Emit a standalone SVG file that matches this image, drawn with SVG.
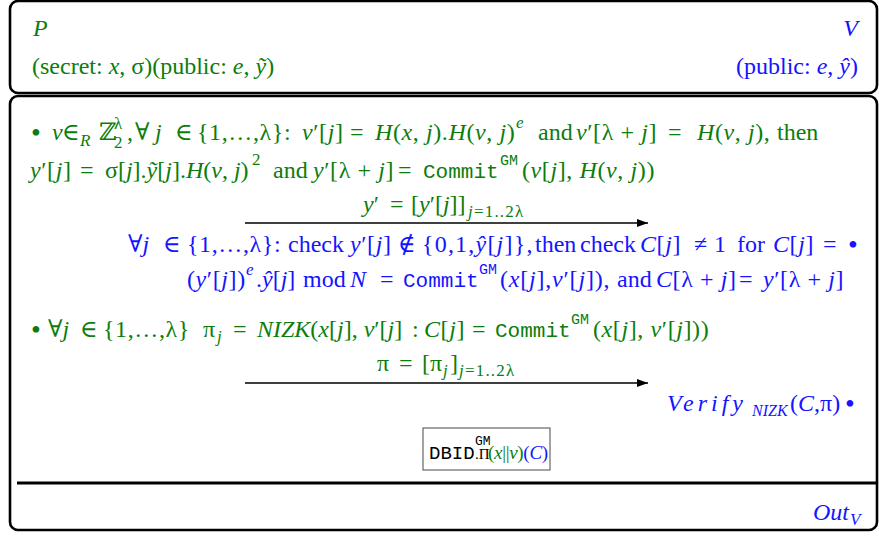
<svg xmlns="http://www.w3.org/2000/svg" width="879" height="539" viewBox="0 0 879 539">
<defs>
<style>
.t{font-family:"Liberation Serif","DejaVu Serif","DejaVu Sans",serif;font-size:24px}
.i{font-style:italic}
.ls{letter-spacing:0.6px}
.m{font-family:"Liberation Mono","DejaVu Sans Mono",monospace;font-size:21px}
.ms{font-family:"Liberation Mono","DejaVu Sans Mono",monospace;font-size:15px}
.s{font-size:17px}
.bu{font-size:28px}
.g{fill:#0b7d0b}
.b{fill:#1414ff}
.k{fill:#000}
.frame{fill:none;stroke:#000;stroke-width:2.6}
.arr{stroke:#000;stroke-width:1.3;fill:none}
</style>
<marker id="ah" viewBox="0 0 11 8" refX="11" refY="4" markerWidth="11" markerHeight="8" markerUnits="userSpaceOnUse" orient="auto">
<path d="M0,0 L11,4 L0,8 Z" fill="#000"/>
</marker>
</defs>
<rect id="background" x="0" y="0" width="879" height="539" fill="#fff"/>

<g id="frames">
<rect id="header-box" class="frame" x="10" y="1" width="867" height="92" rx="8"/>
<rect id="main-box" class="frame" x="10" y="96" width="867" height="434" rx="8"/>
<line id="separator" x1="17" y1="483" x2="877" y2="483" stroke="#000" stroke-width="3"/>
</g>

<g id="prover-header">
<text class="t g i" x="33" y="36">P</text>
<text class="t g" x="32" y="74">(secret: <tspan class="i">x</tspan>, σ)(public: <tspan class="i">e</tspan>, <tspan class="i">ỹ</tspan>)</text>
</g>
<g id="verifier-header">
<text class="t b i" x="858" y="36" text-anchor="end">V</text>
<text class="t b" x="858" y="74" text-anchor="end">(public: <tspan class="i">e</tspan>, <tspan class="i">ŷ</tspan>)</text>
</g>

<g id="prover-step1">
<text class="t g" y="140"><tspan x="31" y="142" class="bu">•</tspan><tspan x="52" y="140" class="i">v</tspan><tspan x="62">∈</tspan><tspan x="80" y="146" class="i s">R</tspan><tspan x="99" y="140">ℤ</tspan><tspan x="114" y="129" class="s">λ</tspan><tspan x="114" y="148" class="s">2</tspan><tspan x="127" y="140">,</tspan><tspan x="135">∀</tspan><tspan x="155" class="i">j</tspan><tspan x="175">∈</tspan><tspan x="197" class="ls">{1,…,λ}:</tspan><tspan x="302" class="ls"><tspan class="i">v</tspan>′[<tspan class="i">j</tspan>]</tspan><tspan x="350">=</tspan><tspan x="375" class="ls"><tspan class="i">H</tspan>(<tspan class="i">x</tspan>, <tspan class="i">j</tspan>).<tspan class="i">H</tspan>(<tspan class="i">v</tspan>, <tspan class="i">j</tspan>)</tspan><tspan x="516" y="128" class="i s">e</tspan><tspan x="538" y="140">and</tspan><tspan x="576" class="ls"><tspan class="i">v</tspan>′[λ + <tspan class="i">j</tspan>]</tspan><tspan x="668">=</tspan><tspan x="697" class="ls"><tspan class="i">H</tspan>(<tspan class="i">v</tspan>, <tspan class="i">j</tspan>),</tspan><tspan x="777">then</tspan></text>
<text class="t g" y="178"><tspan x="30" class="ls"><tspan class="i">y</tspan>′[<tspan class="i">j</tspan>]</tspan><tspan x="80">=</tspan><tspan x="105">σ[<tspan class="i">j</tspan>].<tspan class="i">ỹ</tspan>[<tspan class="i">j</tspan>].<tspan class="i">H</tspan>(<tspan class="i">v</tspan>, <tspan class="i">j</tspan>)</tspan><tspan x="252" y="165" class="s">2</tspan><tspan x="273" y="178">and</tspan><tspan x="313" class="ls"><tspan class="i">y</tspan>′[λ + <tspan class="i">j</tspan>]</tspan><tspan x="398">=</tspan><tspan x="423" class="m">Commit</tspan><tspan x="500" y="165" class="ms">GM</tspan><tspan x="522" y="178" class="ls">(<tspan class="i">v</tspan>[<tspan class="i">j</tspan>], <tspan class="i">H</tspan>(<tspan class="i">v</tspan>, <tspan class="i">j</tspan>))</tspan></text>
</g>

<g id="msg-yprime">
<text class="t g" y="212"><tspan x="363"><tspan class="i">y</tspan>′</tspan><tspan x="390">=</tspan><tspan x="411">[<tspan class="i">y</tspan>′[<tspan class="i">j</tspan>]]</tspan><tspan x="468" y="217" class="s" letter-spacing="1.2"><tspan class="i">j</tspan>=1..2λ</tspan></text>
</g>

<g id="verifier-step1">
<text class="t b" y="252"><tspan x="128">∀<tspan class="i">j</tspan></tspan><tspan x="163">∈</tspan><tspan x="187" class="ls">{1,…,λ}:</tspan><tspan x="288">check</tspan><tspan x="350" class="ls"><tspan class="i">y</tspan>′[<tspan class="i">j</tspan>]</tspan><tspan x="398">∉</tspan><tspan x="422" letter-spacing="1.2">{0,1,<tspan class="i">ŷ</tspan>[<tspan class="i">j</tspan>]},</tspan><tspan x="535">then</tspan><tspan x="580">check</tspan><tspan x="640" class="ls"><tspan class="i">C</tspan>[<tspan class="i">j</tspan>]</tspan><tspan x="694">≠</tspan><tspan x="714">1</tspan><tspan x="737">for</tspan><tspan x="773" class="ls"><tspan class="i">C</tspan>[<tspan class="i">j</tspan>]</tspan><tspan x="823">=</tspan><tspan x="848" y="254" class="bu">•</tspan></text>
<text class="t b" y="287"><tspan x="187" class="ls">(<tspan class="i">y</tspan>′[<tspan class="i">j</tspan>])</tspan><tspan x="246" y="275" class="i s">e</tspan><tspan x="256" y="287">.<tspan class="i">ŷ</tspan>[<tspan class="i">j</tspan>]</tspan><tspan x="303">mod</tspan><tspan x="350" class="i">N</tspan><tspan x="380">=</tspan><tspan x="403" class="m">Commit</tspan><tspan x="479" y="274" class="ms">GM</tspan><tspan x="500" y="287" letter-spacing="0.8">(<tspan class="i">x</tspan>[<tspan class="i">j</tspan>],<tspan class="i">v</tspan>′[<tspan class="i">j</tspan>]),</tspan><tspan x="617">and</tspan><tspan x="656" class="ls"><tspan class="i">C</tspan>[λ + <tspan class="i">j</tspan>]</tspan><tspan x="739">=</tspan><tspan x="763" class="ls"><tspan class="i">y</tspan>′[λ + <tspan class="i">j</tspan>]</tspan></text>
</g>

<g id="prover-step2">
<text class="t g" y="337"><tspan x="31" y="339" class="bu">•</tspan><tspan x="48" y="337">∀<tspan class="i">j</tspan></tspan><tspan x="80">∈</tspan><tspan x="103" class="ls">{1,…,λ}</tspan><tspan x="203">π</tspan><tspan x="217" y="342" class="i s">j</tspan><tspan x="233" y="337">=</tspan><tspan x="257"><tspan class="i">NIZK</tspan>(<tspan class="i">x</tspan>[<tspan class="i">j</tspan>], <tspan class="i">v</tspan>′[<tspan class="i">j</tspan>]</tspan><tspan x="412">:</tspan><tspan x="424" class="ls"><tspan class="i">C</tspan>[<tspan class="i">j</tspan>]</tspan><tspan x="472">=</tspan><tspan x="495" class="m">Commit</tspan><tspan x="571" y="324" class="ms">GM</tspan><tspan x="593" y="337" class="ls">(<tspan class="i">x</tspan>[<tspan class="i">j</tspan>], <tspan class="i">v</tspan>′[<tspan class="i">j</tspan>]))</tspan></text>
</g>

<g id="msg-pi">
<text class="t g" y="371"><tspan x="377">π</tspan><tspan x="399">=</tspan><tspan x="422">[π</tspan><tspan x="443" y="376" class="i s">j</tspan><tspan x="450" y="371">]</tspan><tspan x="459" y="376" class="s" letter-spacing="1.2"><tspan class="i">j</tspan>=1..2λ</tspan></text>
</g>

<g id="verifier-step2">
<text class="t b" y="411"><tspan x="667" class="i" letter-spacing="4">Verify</tspan><tspan x="752" y="416" class="i" style="font-size:16px">NIZK</tspan><tspan x="790" y="411">(<tspan class="i">C</tspan>,π)</tspan><tspan x="845" y="413" class="bu">•</tspan></text>
</g>

<g id="dbid-box">
<rect x="423" y="428" width="127" height="42" fill="#fff" stroke="#666" stroke-width="1.2"/>
<text class="t" y="459" style="font-size:19px"><tspan x="429" class="k" style="font-family:'Liberation Mono','DejaVu Sans Mono',monospace;font-size:19px">DBID</tspan><tspan x="475" y="445" class="k" style="font-family:'Liberation Mono','DejaVu Sans Mono',monospace;font-size:13px">GM</tspan><tspan x="475" y="459" class="k" style="font-size:15px">.Π</tspan><tspan x="488" class="g" letter-spacing="-0.3">(<tspan class="i">x</tspan>||<tspan class="i">v</tspan>)</tspan><tspan class="b" letter-spacing="-0.3">(<tspan class="i">C</tspan>)</tspan></text>
</g>

<g id="output">
<text class="t b" y="520"><tspan x="813" class="i">Out</tspan><tspan x="850" y="525" class="i s">V</tspan></text>
</g>

<g id="connectors">
<line id="arrow-yprime" class="arr" x1="245" y1="223" x2="648" y2="223" marker-end="url(#ah)"/>
<line id="arrow-pi" class="arr" x1="245" y1="383" x2="648" y2="383" marker-end="url(#ah)"/>
</g>
</svg>
